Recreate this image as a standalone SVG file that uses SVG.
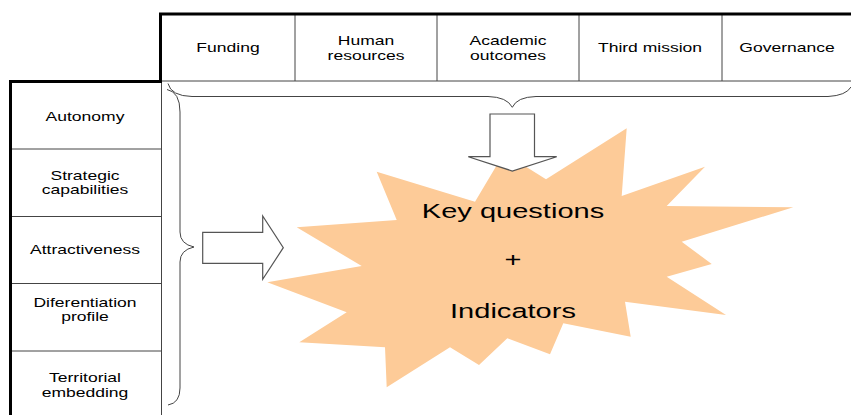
<svg xmlns="http://www.w3.org/2000/svg" width="851" height="415" viewBox="0 0 851 415">
<style>
.t{font-family:"Liberation Sans",Arial,sans-serif;font-size:12px;text-anchor:middle;fill:#000}
.big{font-size:19.5px}
.thin{stroke:#444;stroke-width:1;fill:none}
.thick{stroke:#000;stroke-width:3;fill:none}
.brace{stroke:#444;stroke-width:1;fill:none}
.arrow{fill:#fff;stroke:#555;stroke-width:1.2;stroke-linejoin:miter}
.star{fill:#FDCB98;stroke:none}
</style>
<rect width="851" height="415" fill="#fff"/>

<g id="star">
<polygon class="star" points="376.7,171.7 475,201.7 504,153 546,179.3 626.7,128.3 621.7,196 705,166.7 666.7,206 793.3,207.3 681.7,241.7 711.7,264 666.7,276.7 726,315 625,301.7 630.7,336.7 563.3,323.3 550,354.3 507.3,338.3 479,365 450,347.3 386.7,387.3 385,347.3 299.3,342.3 346.7,312.3 267.3,282.3 361.7,266 296.7,227.3 396.7,220"/>
<text class="t big" transform="translate(513,0) scale(1.49,1)" x="0" y="218">Key questions</text>
<text class="t big" transform="translate(513,0) scale(1.49,1)" x="0" y="267">+</text>
<text class="t big" transform="translate(513,0) scale(1.49,1)" x="0" y="318">Indicators</text>
</g>

<g id="header">
<line class="thin" x1="160" y1="81" x2="851" y2="81"/>
<line class="thin" x1="295" y1="14" x2="295" y2="81"/>
<line class="thin" x1="437" y1="14" x2="437" y2="81"/>
<line class="thin" x1="579" y1="14" x2="579" y2="81"/>
<line class="thin" x1="722" y1="14" x2="722" y2="81"/>
<line class="thick" x1="159" y1="14" x2="851" y2="14"/>
<line class="thick" x1="160.5" y1="13" x2="160.5" y2="81"/>
</g>
<g id="h-funding"><text class="t" transform="translate(228,0) scale(1.46,1)" x="0" y="52">Funding</text></g>
<g id="h-human"><text class="t" transform="translate(366,0) scale(1.46,1)" x="0" y="45">Human</text><text class="t" transform="translate(366,0) scale(1.46,1)" x="0" y="60">resources</text></g>
<g id="h-academic"><text class="t" transform="translate(508,0) scale(1.46,1)" x="0" y="45">Academic</text><text class="t" transform="translate(508,0) scale(1.46,1)" x="0" y="60">outcomes</text></g>
<g id="h-third"><text class="t" transform="translate(650,0) scale(1.46,1)" x="0" y="52">Third mission</text></g>
<g id="h-governance"><text class="t" transform="translate(787,0) scale(1.46,1)" x="0" y="52">Governance</text></g>

<g id="leftcol">
<line class="thin" x1="161.5" y1="81" x2="161.5" y2="415"/>
<line class="thin" x1="10" y1="149" x2="161" y2="149"/>
<line class="thin" x1="10" y1="216.5" x2="161" y2="216.5"/>
<line class="thin" x1="10" y1="283.5" x2="161" y2="283.5"/>
<line class="thin" x1="10" y1="351" x2="161" y2="351"/>
<line class="thick" x1="9" y1="81.5" x2="162" y2="81.5"/>
<line class="thick" x1="10.5" y1="80" x2="10.5" y2="415"/>
</g>
<g id="r-autonomy"><text class="t" transform="translate(85,0) scale(1.46,1)" x="0" y="121">Autonomy</text></g>
<g id="r-strategic"><text class="t" transform="translate(85,0) scale(1.46,1)" x="0" y="180">Strategic</text><text class="t" transform="translate(85,0) scale(1.46,1)" x="0" y="194">capabilities</text></g>
<g id="r-attract"><text class="t" transform="translate(85,0) scale(1.46,1)" x="0" y="254">Attractiveness</text></g>
<g id="r-diff"><text class="t" transform="translate(85,0) scale(1.46,1)" x="0" y="307">Diferentiation</text><text class="t" transform="translate(85,0) scale(1.46,1)" x="0" y="321">profile</text></g>
<g id="r-terr"><text class="t" transform="translate(85,0) scale(1.46,1)" x="0" y="382">Territorial</text><text class="t" transform="translate(85,0) scale(1.46,1)" x="0" y="397">embedding</text></g>

<g id="connectors">
<path class="brace" d="M168,83.5 Q171,96 192,96.5 L488,96.5 Q507,97 512.3,107.3 Q517,97 536,96.5 L828,96.5 Q846,95.5 851,87"/>
<path class="brace" d="M167,89.5 Q180,92 180,112 L180,232 Q180,244 194,247 Q180,250 180,262 L180,388 Q180,403 168,405"/>
<polygon class="arrow" points="490,114 534.5,114 534.5,156.7 556.7,156.7 512.3,171 468.3,156.7 490,156.7"/>
<polygon class="arrow" points="202.7,232.3 262.7,232.3 262.7,216 283.3,247.7 262.7,279.3 262.7,263.3 202.7,263.3"/>
</g>
</svg>
